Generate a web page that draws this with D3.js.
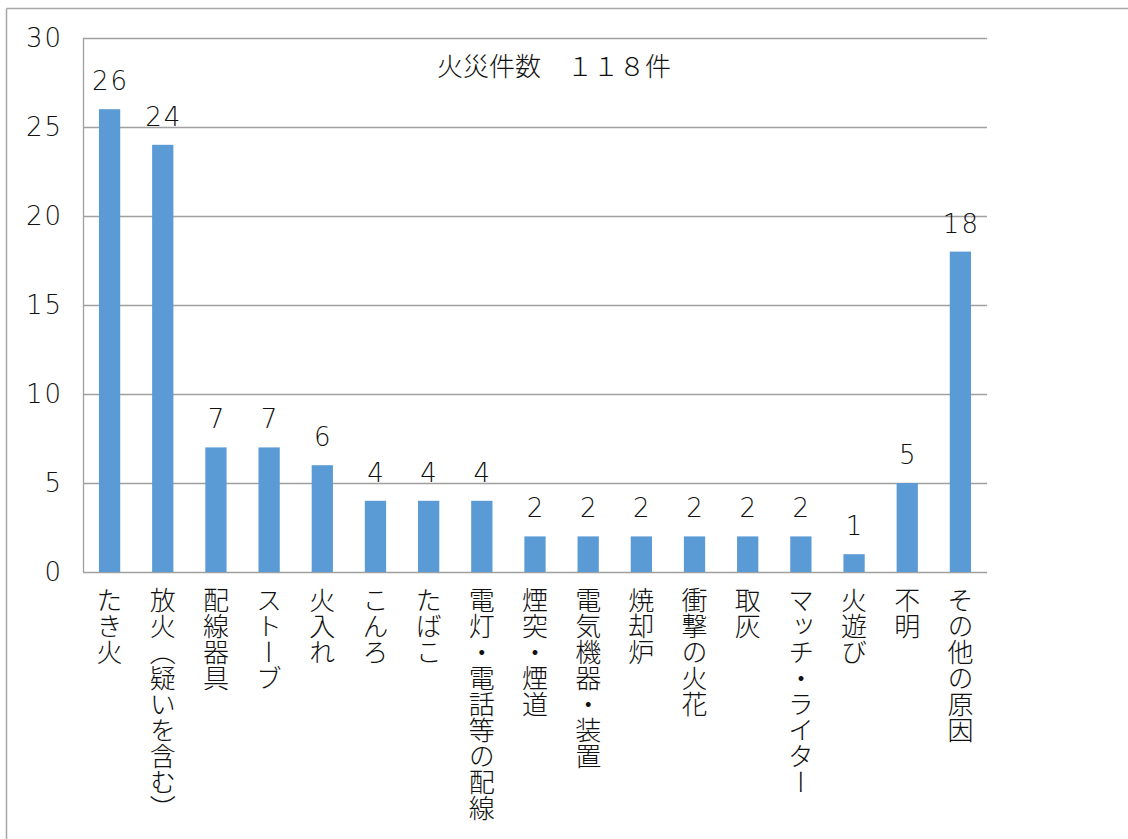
<!DOCTYPE html>
<html><head><meta charset="utf-8">
<script src="https://cdn.jsdelivr.net/npm/d3@7"></script>
<style>
html,body{margin:0;padding:0;background:#fff;}
svg{display:block;}
text{font-family:"Noto Sans CJK JP","Noto Sans",sans-serif;fill:#111;}
text.num{font-family:"DejaVu Sans",sans-serif;}
</style></head>
<body>
<script>
const categories = ["たき火","放火（疑いを含む）","配線器具","ストーブ","火入れ","こんろ","たばこ","電灯・電話等の配線","煙突・煙道","電気機器・装置","焼却炉","衝撃の火花","取灰","マッチ・ライター","火遊び","不明","その他の原因"];
const values = [26,24,7,7,6,4,4,4,2,2,2,2,2,2,1,5,18];
const yTicks = [0,5,10,15,20,25,30];
const title = "火災件数　１１８件";

(function(){
const W = 1128, H = 839;
const svg = d3.select("body").append("svg").attr("width", W).attr("height", H);

// outer frame
svg.append("line").attr("x1",6.5).attr("x2",W).attr("y1",8.5).attr("y2",8.5).attr("stroke","#a6a6a6").attr("stroke-width",1.5);
svg.append("line").attr("x1",6.5).attr("x2",6.5).attr("y1",8.5).attr("y2",H).attr("stroke","#a6a6a6").attr("stroke-width",1.5);

const mLeft = 83, mRight = 987, mTop = 38, mBottom = 572;
const x = d3.scaleBand().domain(categories).range([mLeft, mRight]).paddingInner(0.6).paddingOuter(0.3);
const y = d3.scaleLinear().domain([0, 30]).range([mBottom, mTop]);

// gridlines
svg.append("g").selectAll("line").data(yTicks).join("line")
  .attr("x1", mLeft).attr("x2", mRight)
  .attr("y1", d => Math.round(y(d)) + 0.5).attr("y2", d => Math.round(y(d)) + 0.5)
  .attr("stroke", "#a0a0a0").attr("stroke-width", 1.3);
// y axis line
svg.append("line").attr("x1", mLeft + 0.5).attr("x2", mLeft + 0.5).attr("y1", y(30)).attr("y2", y(0))
  .attr("stroke", "#a0a0a0").attr("stroke-width", 1.3);

// y tick labels
svg.append("g").selectAll("text").data(yTicks).join("text")
  .attr("class", "num")
  .attr("x", 63).attr("y", d => y(d)).attr("dy", "0.36em")
  .attr("text-anchor", "end").attr("font-size", 26).attr("font-weight", 200)
  .attr("letter-spacing", 2)
  .text(d => d);

// bars
svg.append("g").selectAll("rect").data(values).join("rect")
  .attr("x", (d, i) => x(categories[i])).attr("width", x.bandwidth())
  .attr("y", d => y(d)).attr("height", d => y(0) - y(d))
  .attr("fill", "#5b9bd5");

// value labels
svg.append("g").selectAll("text").data(values).join("text")
  .attr("class", "num")
  .attr("x", (d, i) => x(categories[i]) + x.bandwidth() / 2 + 1)
  .attr("y", d => y(d) - 19)
  .attr("text-anchor", "middle").attr("font-size", 26).attr("font-weight", 200)
  .attr("letter-spacing", 2)
  .text(d => d);

// category labels (vertical)
svg.append("g").selectAll("text").data(categories).join("text")
  .attr("x", d => x(d) + x.bandwidth() / 2)
  .attr("y", 587)
  .attr("font-size", 26).attr("font-weight", 300)
  .style("writing-mode", "vertical-rl")
  .attr("text-anchor", "start")
  .text(d => d);

// title
svg.append("text").attr("x", 554).attr("y", 76).attr("text-anchor", "middle")
  .attr("font-size", 26).attr("font-weight", 300).text(title);
})();
</script>
</body></html>
